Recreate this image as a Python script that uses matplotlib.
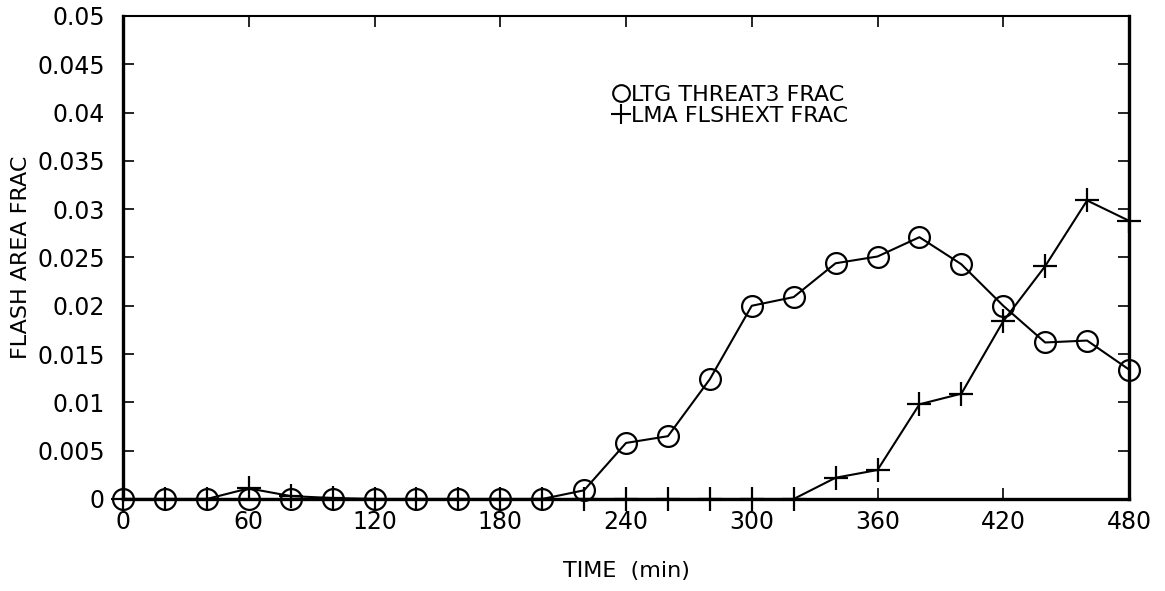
import matplotlib
matplotlib.use("Agg")
import matplotlib.pyplot as plt
from matplotlib.lines import Line2D
from matplotlib.ticker import FuncFormatter

# -----------------------------------------------
# Data (every 20 min)
# -----------------------------------------------
time_min = [0, 20, 40, 60, 80, 100, 120, 140, 160, 180, 200, 220, 240,
            260, 280, 300, 320, 340, 360, 380, 400, 420, 440, 460, 480]

ltg_threat3_frac = [0, 0, 0, 0, 0, 0, 0, 0, 0, 0, 0, 0.0009, 0.0058,
                    0.0065, 0.0124, 0.0200, 0.0209, 0.0244, 0.0251, 0.0271,
                    0.0243, 0.0200, 0.0162, 0.0164, 0.0134]

lma_flshext_frac = [0, 0, 0, 0.0011, 0.0003, 0.0001, 0, 0, 0, 0, 0, 0, 0,
                    0, 0, 0, 0, 0.0022, 0.0030, 0.0098, 0.0109, 0.0184,
                    0.0241, 0.0309, 0.0288]

series_labels = ["LTG THREAT3 FRAC", "LMA FLSHEXT FRAC"]
x_ticks = [0, 60, 120, 180, 240, 300, 360, 420, 480]
y_ticks = [0, 0.005, 0.01, 0.015, 0.02, 0.025, 0.03, 0.035, 0.04, 0.045, 0.05]

plt.rcParams["font.family"] = ["DejaVu Sans"]

fig = plt.figure(figsize=(11.65, 5.91), dpi=100)
ax = fig.add_axes([0.1056, 0.1557, 0.8635, 0.8173])

ax.plot(time_min, ltg_threat3_frac, color="black", linewidth=1.5,
        marker="o", markersize=15, markerfacecolor="none",
        markeredgewidth=1.6, clip_on=False, zorder=3)
ax.plot(time_min, lma_flshext_frac, color="black", linewidth=1.5,
        marker="+", markersize=17, markeredgewidth=1.6,
        clip_on=False, zorder=4)

ax.set_xlim(0, 480)
ax.set_ylim(0, 0.05)
ax.set_xticks(x_ticks)
ax.set_yticks(y_ticks)
ax.yaxis.set_major_formatter(FuncFormatter(lambda v, p: "{:g}".format(round(v, 4))))

ax.tick_params(axis="both", direction="in", length=8, width=1.2,
               top=True, right=True, labelsize=17)
ax.tick_params(axis="x", pad=8)
ax.tick_params(axis="y", pad=13)

for side in ["left", "right", "bottom"]:
    ax.spines[side].set_linewidth(2.4)
ax.spines["top"].set_linewidth(1.5)

ax.set_xlabel("TIME  (min)", fontsize=16)
ax.xaxis.set_label_coords(0.5, -0.128)
ax.set_ylabel("FLASH AREA FRAC", fontsize=16)
ax.yaxis.set_label_coords(-0.091, 0.5)

# legend shows only the marker symbols, as in the original plot
handles = [
    Line2D([], [], color="black", linestyle="none", marker="o",
           markersize=12, markerfacecolor="none", markeredgewidth=1.5),
    Line2D([], [], color="black", linestyle="none", marker="+",
           markersize=14, markeredgewidth=1.5),
]
ax.legend(handles, series_labels, loc="upper left", bbox_to_anchor=(0.488, 0.857),
          frameon=False, fontsize=16, handlelength=0.6, handletextpad=0.15,
          labelspacing=0.05, borderpad=0, borderaxespad=0)

plt.savefig("out.png", dpi=100)
plt.close()
